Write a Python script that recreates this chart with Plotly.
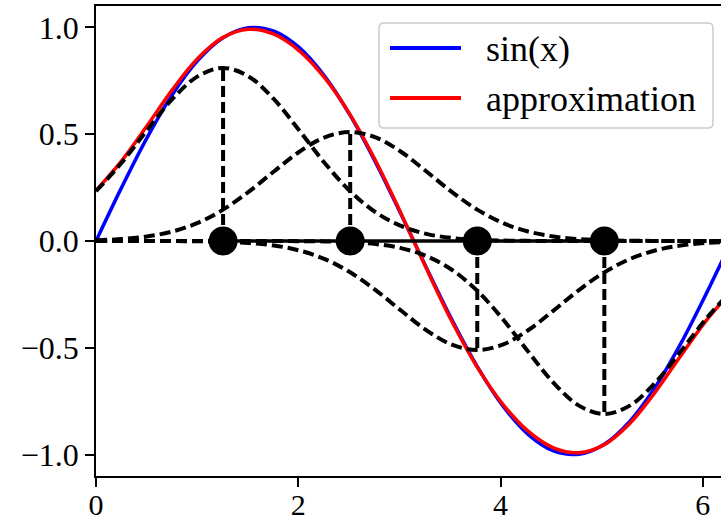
import plotly.graph_objects as go

# sample grid (x values)
x = [0.0, 0.2513, 0.5027, 0.7540, 1.0053, 1.2566, 1.5080, 1.7593, 2.0106, 2.2619,
     2.5133, 2.7646, 3.0159, 3.2673, 3.5186, 3.7699, 4.0212, 4.2726, 4.5239, 4.7752,
     5.0265, 5.2779, 5.5292, 5.7805, 6.0319, 6.2832]

sin_y = [0.0, 0.2487, 0.4818, 0.6846, 0.8443, 0.9511, 0.9980, 0.9823, 0.9048, 0.7705,
         0.5878, 0.3681, 0.1253, -0.1253, -0.3681, -0.5878, -0.7705, -0.9048, -0.9823, -0.9980,
         -0.9511, -0.8443, -0.6846, -0.4818, -0.2487, 0.0]

approx_y = [0.2364, 0.3738, 0.5380, 0.7075, 0.8541, 0.9532, 0.9913, 0.9680, 0.8900, 0.7633,
            0.5907, 0.3758, 0.1293, -0.1293, -0.3758, -0.5907, -0.7633, -0.8900, -0.9680, -0.9913,
            -0.9532, -0.8541, -0.7075, -0.5380, -0.3738, -0.2364]

g1 = [0.2329, 0.3648, 0.5172, 0.6636, 0.7706, 0.8100, 0.7706, 0.6636, 0.5172, 0.3648,
      0.2329, 0.1346, 0.0704, 0.0333, 0.0143, 0.0055, 0.0019, 0.0006, 0.0002, 0.0001,
      0.0, 0.0, 0.0, 0.0, 0.0, 0.0]
g2 = [0.0035, 0.0090, 0.0210, 0.0443, 0.0848, 0.1467, 0.2297, 0.3256, 0.4178, 0.4852,
      0.5100, 0.4852, 0.4178, 0.3256, 0.2297, 0.1467, 0.0848, 0.0443, 0.0210, 0.0090,
      0.0035, 0.0012, 0.0004, 0.0001, 0.0, 0.0]
g3 = [0.0, 0.0, -0.0001, -0.0004, -0.0012, -0.0035, -0.0090, -0.0210, -0.0443, -0.0848,
      -0.1467, -0.2297, -0.3256, -0.4178, -0.4852, -0.5100, -0.4852, -0.4178, -0.3256, -0.2297,
      -0.1467, -0.0848, -0.0443, -0.0210, -0.0090, -0.0035]
g4 = [0.0, 0.0, 0.0, 0.0, 0.0, 0.0, -0.0001, -0.0002, -0.0006, -0.0019,
      -0.0055, -0.0143, -0.0333, -0.0704, -0.1346, -0.2329, -0.3648, -0.5172, -0.6636, -0.7706,
      -0.8100, -0.7706, -0.6636, -0.5172, -0.3648, -0.2329]

centers = [1.2566, 2.5133, 3.7699, 5.0265]
weights = [0.81, 0.51, -0.51, -0.81]

ytick_vals = [-1.0, -0.5, 0.0, 0.5, 1.0]
ytick_text = ["\u22121.0", "\u22120.5", "0.0", "0.5", "1.0"]
xtick_vals = [0, 2, 4, 6]
xtick_text = ["0", "2", "4", "6"]

FONT = "Liberation Serif"
dash = "11px,5px"

fig = go.Figure()
fig.add_trace(go.Scatter(x=x, y=sin_y, mode="lines", name="sin(x)",
                         line=dict(color="#0000ff", width=3.5, shape="spline"),
                         showlegend=False))
fig.add_trace(go.Scatter(x=x, y=approx_y, mode="lines", name="approximation",
                         line=dict(color="#ff0000", width=3.5, shape="spline"),
                         showlegend=False))
for g in (g1, g2, g3, g4):
    fig.add_trace(go.Scatter(x=x, y=g, mode="lines",
                             line=dict(color="black", width=4, dash=dash, shape="spline"),
                             showlegend=False, hoverinfo="skip"))

stem_x, stem_y = [], []
for c, w in zip(centers, weights):
    stem_x += [c, c, None]
    stem_y += [0, w, None]
fig.add_trace(go.Scatter(x=stem_x, y=stem_y, mode="lines",
                         line=dict(color="black", width=4, dash=dash),
                         showlegend=False, hoverinfo="skip"))
fig.add_trace(go.Scatter(x=centers, y=[0] * len(centers), mode="lines+markers",
                         line=dict(color="black", width=3.5),
                         marker=dict(color="black", size=29),
                         showlegend=False))

# manual legend (matplotlib style)
L, T, W, H = 96, 6, 625, 470
def px(xp):
    return (xp - L) / W
def py(yp):
    return (T + H - yp) / H

x0, x1, y0, y1 = px(379), px(713), py(128), py(23)
rx, ry = 5 / W, 5 / H
path = (f"M{x0+rx},{y1} L{x1-rx},{y1} Q{x1},{y1} {x1},{y1-ry} "
        f"L{x1},{y0+ry} Q{x1},{y0} {x1-rx},{y0} L{x0+rx},{y0} Q{x0},{y0} {x0},{y0+ry} "
        f"L{x0},{y1-ry} Q{x0},{y1} {x0+rx},{y1} Z")
shapes = [dict(type="path", xref="paper", yref="paper", path=path,
               line=dict(color="#cccccc", width=1.5), fillcolor="rgba(255,255,255,0.8)")]
annotations = []
for name, color, yp in (("sin(x)", "#0000ff", 48), ("approximation", "#ff0000", 98)):
    shapes.append(dict(type="line", xref="paper", yref="paper",
                       x0=px(390), x1=px(461), y0=py(yp), y1=py(yp),
                       line=dict(color=color, width=4)))
    annotations.append(dict(xref="paper", yref="paper", x=px(484), y=py(yp + 1),
                            xanchor="left", yanchor="middle", showarrow=False,
                            text=name, font=dict(family=FONT, size=36, color="black")))

fig.update_layout(
    width=721, height=525,
    margin=dict(l=L, r=0, t=T, b=525 - T - H, autoexpand=False),
    paper_bgcolor="white", plot_bgcolor="white",
    font=dict(family=FONT, size=32, color="black"),
    shapes=shapes, annotations=annotations,
    showlegend=False,
    xaxis=dict(range=[0, 6.18], tickvals=xtick_vals, ticktext=xtick_text,
               automargin=False, ticklabelstandoff=-8,
               showgrid=False, zeroline=False, showline=True, linecolor="black",
               linewidth=1.5, mirror=True, ticks="outside", ticklen=9, tickwidth=1.5,
               tickcolor="black", tickfont=dict(family=FONT, size=30, color="black")),
    yaxis=dict(range=[-1.1, 1.1], tickvals=ytick_vals, ticktext=ytick_text,
               automargin=False,
               showgrid=False, zeroline=False, showline=True, linecolor="black",
               linewidth=1.5, mirror=False, ticks="outside", ticklen=9, tickwidth=1.5,
               tickcolor="black", tickfont=dict(family=FONT, size=32, color="black")),
)

fig.write_html("out.html")
